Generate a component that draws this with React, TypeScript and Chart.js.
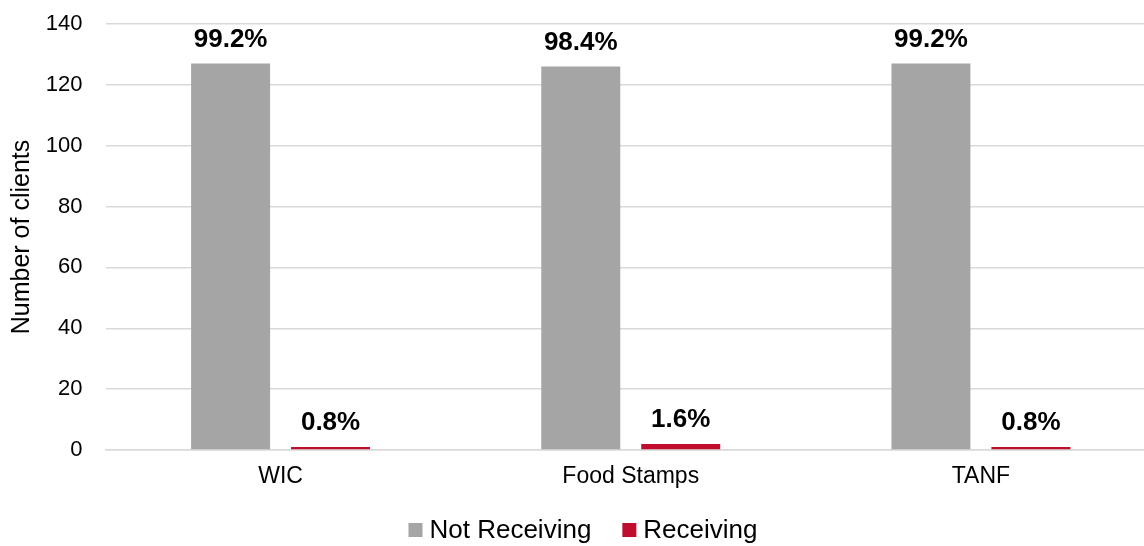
import React, { useEffect, useRef } from "react";
import { Chart, registerables } from "chart.js";

Chart.register(...registerables);

const categories = ["WIC", "Food Stamps", "TANF"];
const notReceiving = [127, 126, 127];
const receiving = [1, 2, 1];
const notReceivingLabels = ["99.2%", "98.4%", "99.2%"];
const receivingLabels = ["0.8%", "1.6%", "0.8%"];
const seriesNames = ["Not Receiving", "Receiving"];
const colors = ["#A5A5A5", "#C00D2E"];

const FONT = "'Liberation Sans', Arial, sans-serif";

export default function App() {
  const ref = useRef<HTMLCanvasElement | null>(null);
  useEffect(() => {
    if (!ref.current) return;
    const allLabels = [notReceivingLabels, receivingLabels];
    const labelPlugin = {
      id: "labels",
      afterDatasetsDraw(chart: any) {
        const ctx = chart.ctx;
        ctx.save();
        ctx.font = `bold 26px ${FONT}`;
        ctx.fillStyle = "#000";
        ctx.textAlign = "center";
        ctx.textBaseline = "alphabetic";
        chart.data.datasets.forEach((ds: any, di: number) => {
          const meta = chart.getDatasetMeta(di);
          meta.data.forEach((bar: any, i: number) => {
            ctx.fillText(allLabels[di][i], bar.x, bar.y - 17);
          });
        });
        ctx.restore();
      },
    };
    const legendPlugin = {
      id: "customLegend",
      afterDraw(chart: any) {
        const ctx = chart.ctx;
        ctx.save();
        ctx.font = `26px ${FONT}`;
        const box = 14;
        const gap = 7;
        const itemGap = 31;
        const widths = seriesNames.map((n) => box + gap + ctx.measureText(n).width);
        const total = widths.reduce((a, b) => a + b, 0) + itemGap * (seriesNames.length - 1);
        let x = 583 - total / 2;
        const cy = 530;
        seriesNames.forEach((n, i) => {
          ctx.fillStyle = colors[i];
          ctx.fillRect(x, cy - box / 2, box, box);
          ctx.fillStyle = "#000";
          ctx.textBaseline = "alphabetic";
          ctx.textAlign = "left";
          ctx.fillText(n, x + box + gap, 538);
          x += widths[i] + itemGap;
        });
        ctx.restore();
      },
    };
    const chart = new Chart(ref.current, {
      type: "bar",
      data: {
        labels: categories,
        datasets: [
          {
            label: seriesNames[0],
            data: notReceiving,
            backgroundColor: colors[0],
            categoryPercentage: 0.571,
            barPercentage: 0.79,
          },
          {
            label: seriesNames[1],
            data: receiving,
            backgroundColor: colors[1],
            categoryPercentage: 0.571,
            barPercentage: 0.79,
          },
        ],
      },
      options: {
        animation: false,
        responsive: false,
        maintainAspectRatio: false,
        layout: { padding: { top: 24, right: 10, bottom: 56, left: 0 } },
        plugins: {
          legend: { display: false },
          tooltip: { enabled: false },
        },
        scales: {
          x: {
            grid: { display: false, drawTicks: false },
            border: { display: true, color: "#D9D9D9", width: 1.5 },
            ticks: {
              color: "#000",
              font: { family: FONT, size: 23 },
              padding: 13,
            },
            afterFit(scale: any) {
              scale.height = 40;
              scale.paddingLeft = 0;
              scale.paddingRight = 0;
            },
          },
          y: {
            min: 0,
            max: 140,
            ticks: {
              stepSize: 20,
              color: "#000",
              font: { family: FONT, size: 22 },
              padding: 23,
            },
            grid: { color: "#D9D9D9", lineWidth: 1.5, drawTicks: false },
            border: { display: false },
            title: {
              display: true,
              text: "Number of clients",
              color: "#000",
              font: { family: FONT, size: 25 },
              padding: { top: 7, bottom: 0 },
            },
            afterFit(scale: any) {
              scale.width = 105.5;
              scale.paddingTop = 0;
              scale.paddingBottom = 0;
            },
          },
        },
      },
      plugins: [labelPlugin, legendPlugin],
    });
    return () => chart.destroy();
  }, []);
  return (
    <div
      style={{
        position: "fixed",
        left: 0,
        top: 0,
        width: 1144,
        height: 546,
        overflow: "hidden",
        background: "#fff",
      }}
    >
      <canvas ref={ref} width={1166} height={546} style={{ display: "block" }} />
    </div>
  );
}
